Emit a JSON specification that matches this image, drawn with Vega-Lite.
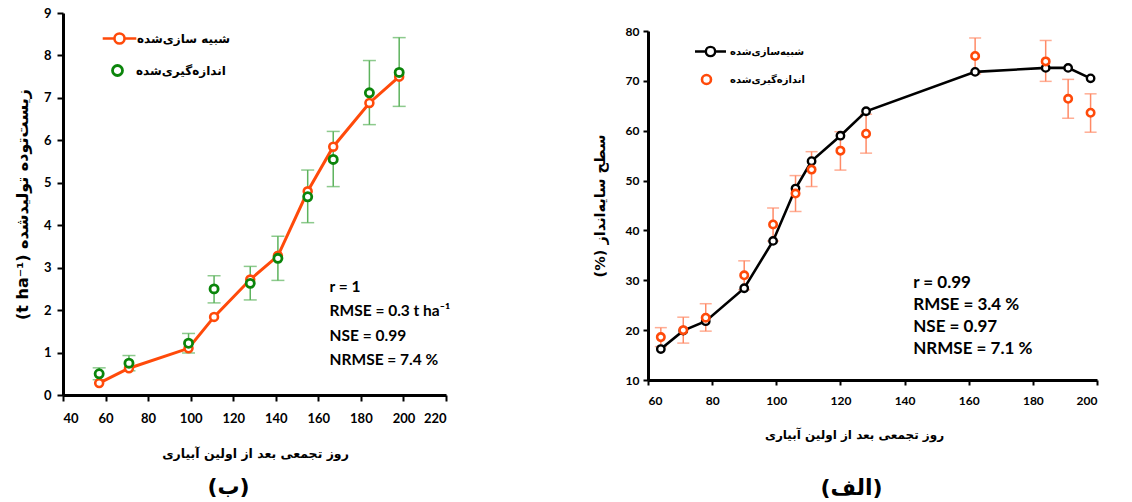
{
  "$schema": "https://vega.github.io/schema/vega-lite/v6.json",
  "padding": {"left": 14, "top": 7, "right": 0, "bottom": 0},
  "background": "white",
  "config": {
    "view": {"stroke": null},
    "axis": {
      "grid": false,
      "domainColor": "black",
      "domainWidth": 3,
      "tickColor": "black",
      "tickWidth": 2,
      "tickSize": 6,
      "labelFont": "Lato",
      "labelFontWeight": "bold",
      "labelColor": "black",
      "labelFontSize": 13,
      "titleFont": "DejaVu Sans",
      "titleFontWeight": "bold",
      "titleColor": "black",
      "titleFontSize": 14
    },
    "title": {"font": "DejaVu Sans", "fontWeight": "bold", "color": "black"}
  },
  "datasets": {
    "left": [
      {"x": 57, "sim": 0.28, "meas": 0.5, "lo": 0.36, "hi": 0.64},
      {"x": 71, "sim": 0.63, "meas": 0.75, "lo": 0.57, "hi": 0.93},
      {"x": 99, "sim": 1.1, "meas": 1.22, "lo": 0.99, "hi": 1.45},
      {"x": 111, "sim": 1.84, "meas": 2.5, "lo": 2.17, "hi": 2.81},
      {"x": 128, "sim": 2.72, "meas": 2.63, "lo": 2.24, "hi": 3.03},
      {"x": 141, "sim": 3.28, "meas": 3.22, "lo": 2.7, "hi": 3.74},
      {"x": 155, "sim": 4.8, "meas": 4.67, "lo": 4.06, "hi": 5.3},
      {"x": 167, "sim": 5.85, "meas": 5.55, "lo": 4.91, "hi": 6.21},
      {"x": 184, "sim": 6.88, "meas": 7.12, "lo": 6.37, "hi": 7.88},
      {"x": 198, "sim": 7.5, "meas": 7.6, "lo": 6.8, "hi": 8.42}
    ],
    "right": [
      {"x": 64, "sim": 16.2, "meas": 18.6, "lo": 16.7, "hi": 20.5},
      {"x": 71, "sim": 19.9, "meas": 20.0, "lo": 17.4, "hi": 22.6},
      {"x": 78, "sim": 21.8, "meas": 22.5, "lo": 19.8, "hi": 25.3},
      {"x": 90, "sim": 28.4, "meas": 31.0, "lo": 28.1, "hi": 33.9},
      {"x": 99, "sim": 37.9, "meas": 41.2, "lo": 37.9, "hi": 44.5},
      {"x": 106, "sim": 48.4, "meas": 47.4, "lo": 43.8, "hi": 51.0},
      {"x": 111, "sim": 53.9, "meas": 52.2, "lo": 48.8, "hi": 55.8},
      {"x": 120, "sim": 59.0, "meas": 56.0, "lo": 52.1, "hi": 59.8},
      {"x": 128, "sim": 63.9, "meas": 59.4, "lo": 55.5, "hi": 63.3},
      {"x": 162, "sim": 71.8, "meas": 75.0, "lo": 71.4, "hi": 78.6},
      {"x": 184, "sim": 72.6, "meas": 73.9, "lo": 69.9, "hi": 78.1},
      {"x": 191, "sim": 72.6, "meas": 66.4, "lo": 62.5, "hi": 70.3},
      {"x": 198, "sim": 70.5, "meas": 63.6, "lo": 59.7, "hi": 67.4}
    ]
  },
  "spacing": 141,
  "resolve": {
    "scale": {"x": "independent", "y": "independent", "stroke": "independent", "shape": "independent"},
    "legend": {"stroke": "independent", "shape": "independent"}
  },
  "hconcat": [
    {
      "width": 383,
      "height": 382,
      "data": {"name": "left"},
      "title": {"text": "(ب)", "orient": "bottom", "offset": 17, "dx": -26, "fontSize": 22, "frame": "group"},
      "encoding": {
        "x": {
          "field": "x",
          "type": "quantitative",
          "scale": {"domain": [40, 220], "nice": false, "zero": false},
          "axis": {
            "values": [40, 60, 80, 100, 120, 140, 160, 180, 200, 220],
            "title": "روز تجمعی بعد از اولین آبیاری",
            "titleFontSize": 12.5,
            "labelPadding": 11,
            "titlePadding": 22,
            "titleX": 192,
            "titleAlign": "center"
          }
        }
      },
      "layer": [
        {
          "mark": {"type": "rule", "color": "#5DB35D", "strokeWidth": 1.5},
          "encoding": {
            "y": {
              "field": "lo",
              "type": "quantitative",
              "scale": {"domain": [0, 9], "nice": false, "zero": false},
              "axis": {
                "values": [0, 1, 2, 3, 4, 5, 6, 7, 8, 9],
                "title": "(t ha⁻¹) زیست‌توده تولیدشده",
                "titleFontSize": 16,
                "labelPadding": 6,
                "titlePadding": 13
              }
            },
            "y2": {"field": "hi"}
          }
        },
        {
          "mark": {"type": "tick", "orient": "horizontal", "size": 13, "thickness": 1.5, "color": "#5DB35D"},
          "encoding": {"y": {"field": "lo", "type": "quantitative"}}
        },
        {
          "mark": {"type": "tick", "orient": "horizontal", "size": 13, "thickness": 1.5, "color": "#5DB35D"},
          "encoding": {"y": {"field": "hi", "type": "quantitative"}}
        },
        {
          "mark": {"type": "line", "strokeWidth": 3},
          "encoding": {
            "y": {"field": "sim", "type": "quantitative"},
            "stroke": {
              "datum": "شبیه سازی‌شده",
              "scale": {"range": ["#FF4A0A"]},
              "legend": {
                "orient": "none",
                "legendX": 43,
                "legendY": 12,
                "title": null,
                "padding": 0,
                "labelFont": "DejaVu Sans",
                "labelFontSize": 12,
                "labelFontWeight": "bold",
                "labelColor": "black",
                "labelOffset": 4,
                "symbolType": "M-1.4,0H-0.42M0.42,0H1.4M-0.42,0A0.42,0.42,0,1,1,0.42,0A0.42,0.42,0,1,1,-0.42,0Z",
                "symbolSize": 576,
                "symbolStrokeWidth": 2.6,
                "symbolFillColor": "white"
              }
            }
          }
        },
        {
          "mark": {"type": "point", "shape": "circle", "filled": true, "fill": "white", "stroke": "#FF4A0A", "strokeWidth": 2.6, "size": 62, "opacity": 1},
          "encoding": {"y": {"field": "sim", "type": "quantitative"}}
        },
        {
          "mark": {"type": "point", "shape": "circle", "filled": true, "color": "white", "size": 66, "opacity": 1},
          "encoding": {"y": {"field": "meas", "type": "quantitative"}}
        },
        {
          "mark": {"type": "point", "filled": false, "color": "#0B850B", "strokeWidth": 2.8, "size": 66, "opacity": 1},
          "encoding": {
            "y": {"field": "meas", "type": "quantitative"},
            "shape": {
              "datum": "اندازه‌گیری‌شده",
              "scale": {"range": ["circle"]},
              "legend": {
                "orient": "none",
                "legendX": 48,
                "legendY": 51,
                "title": null,
                "padding": 0,
                "labelFont": "DejaVu Sans",
                "labelFontSize": 12,
                "labelFontWeight": "bold",
                "labelColor": "black",
                "labelOffset": 12,
                "symbolSize": 100,
                "symbolStrokeWidth": 2.8,
                "symbolStrokeColor": "#0B850B",
                "symbolFillColor": "white"
              }
            }
          }
        },
        {
          "transform": [{"filter": "datum.x == 57"}],
          "mark": {
            "type": "text",
            "align": "left",
            "baseline": "top",
            "font": "Lato",
            "fontWeight": "bold",
            "fontSize": 15.5,
            "lineHeight": 24.5,
            "color": "black",
            "text": ["r = 1", "RMSE = 0.3 t ha⁻¹", "NSE = 0.99", "NRMSE = 7.4 %"]
          },
          "encoding": {
            "x": {"datum": 165.3, "type": "quantitative"},
            "y": {"datum": 2.72, "type": "quantitative"}
          }
        }
      ]
    },
    {
      "spacing": 11,
      "vconcat": [
        {
          "width": 449,
          "height": 1,
          "data": {"values": []},
          "mark": {"type": "point", "opacity": 0},
          "encoding": {}
        },
        {
          "width": 449,
          "height": 349,
          "data": {"name": "right"},
          "title": {"text": "(الف)", "orient": "bottom", "offset": 38, "dx": -21, "fontSize": 22, "frame": "group"},
          "encoding": {
            "x": {
              "field": "x",
              "type": "quantitative",
              "scale": {"domain": [60, 200], "nice": false, "zero": false},
              "axis": {
                "values": [60, 80, 100, 120, 140, 160, 180, 200],
                "title": "روز تجمعی بعد از اولین آبیاری",
                "titleFontSize": 12,
                "labelFontSize": 12,
                "labelPadding": 10,
                "titlePadding": 23,
                "titleX": 206,
                "titleAlign": "center",
                "tickSize": 5
              }
            }
          },
          "layer": [
            {
              "mark": {"type": "rule", "color": "#FF8A66", "strokeWidth": 1.5},
              "encoding": {
                "y": {
                  "field": "lo",
                  "type": "quantitative",
                  "scale": {"domain": [10, 80], "nice": false, "zero": false},
                  "axis": {
                    "values": [10, 20, 30, 40, 50, 60, 70, 80],
                    "title": "(%) سطح سایه‌انداز",
                    "titleFontSize": 14.5,
                    "labelFontSize": 12,
                    "labelPadding": 4,
                    "titlePadding": 18,
                    "tickSize": 5
                  }
                },
                "y2": {"field": "hi"}
              }
            },
            {
              "mark": {"type": "tick", "orient": "horizontal", "size": 12, "thickness": 1.5, "color": "#FF8A66"},
              "encoding": {"y": {"field": "lo", "type": "quantitative"}}
            },
            {
              "mark": {"type": "tick", "orient": "horizontal", "size": 12, "thickness": 1.5, "color": "#FF8A66"},
              "encoding": {"y": {"field": "hi", "type": "quantitative"}}
            },
            {
              "mark": {"type": "line", "strokeWidth": 2.6},
              "encoding": {
                "y": {"field": "sim", "type": "quantitative"},
                "stroke": {
                  "datum": "شبیه‌سازی‌شده",
                  "scale": {"range": ["black"]},
                  "legend": {
                    "orient": "none",
                    "legendX": 50,
                    "legendY": 26,
                    "title": null,
                    "padding": 0,
                    "labelFont": "DejaVu Sans",
                    "labelFontSize": 10,
                    "labelFontWeight": "bold",
                    "labelColor": "black",
                    "labelOffset": 7,
                    "symbolType": "M-1.4,0H-0.42M0.42,0H1.4M-0.42,0A0.42,0.42,0,1,1,0.42,0A0.42,0.42,0,1,1,-0.42,0Z",
                    "symbolSize": 490,
                    "symbolStrokeWidth": 2.4,
                    "symbolFillColor": "white"
                  }
                }
              }
            },
            {
              "mark": {"type": "point", "shape": "circle", "filled": true, "fill": "white", "stroke": "black", "strokeWidth": 2.4, "size": 55, "opacity": 1},
              "encoding": {"y": {"field": "sim", "type": "quantitative"}}
            },
            {
              "mark": {"type": "point", "shape": "circle", "filled": true, "color": "white", "size": 55, "opacity": 1},
              "encoding": {"y": {"field": "meas", "type": "quantitative"}}
            },
            {
              "mark": {"type": "point", "filled": false, "color": "#FF4A0A", "strokeWidth": 2.6, "size": 55, "opacity": 1},
              "encoding": {
                "y": {"field": "meas", "type": "quantitative"},
                "shape": {
                  "datum": "اندازه‌گیری‌شده",
                  "scale": {"range": ["circle"]},
                  "legend": {
                    "orient": "none",
                    "legendX": 52.5,
                    "legendY": 60.5,
                    "title": null,
                    "padding": 0,
                    "labelFont": "DejaVu Sans",
                    "labelFontSize": 10,
                    "labelFontWeight": "bold",
                    "labelColor": "black",
                    "labelOffset": 17.5,
                    "symbolSize": 81,
                    "symbolStrokeWidth": 2.6,
                    "symbolStrokeColor": "#FF4A0A",
                    "symbolFillColor": "white"
                  }
                }
              }
            },
            {
              "transform": [{"filter": "datum.x == 64"}],
              "mark": {
                "type": "text",
                "align": "left",
                "baseline": "top",
                "font": "Lato",
                "fontWeight": "bold",
                "fontSize": 17,
                "lineHeight": 22,
                "color": "black",
                "text": ["r = 0.99", "RMSE = 3.4 %", "NSE = 0.97", "NRMSE = 7.1 %"]
              },
              "encoding": {
                "x": {"datum": 142.7, "type": "quantitative"},
                "y": {"datum": 31.16, "type": "quantitative"}
              }
            }
          ]
        }
      ]
    }
  ]
}
